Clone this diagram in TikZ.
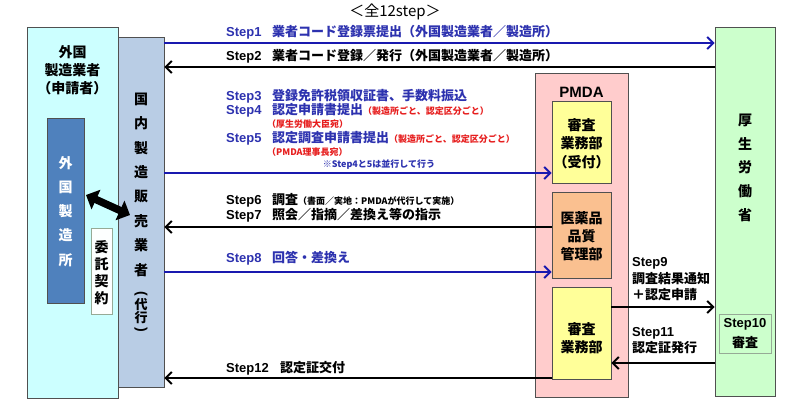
\documentclass[tikz,border=0pt]{standalone}
\usepackage{fontspec}
\setmainfont{Noto Sans CJK JP}
\newfontfamily\lat{Liberation Sans}
\usetikzlibrary{arrows.meta}
\definecolor{cyanbg}{RGB}{204,255,255}
\definecolor{midbg}{RGB}{185,205,229}
\definecolor{darkbl}{RGB}{79,129,189}
\definecolor{greenbg}{RGB}{204,255,204}
\definecolor{pinkbg}{RGB}{255,204,204}
\definecolor{yelbg}{RGB}{255,255,153}
\definecolor{orgbg}{RGB}{250,192,144}
\definecolor{stepblue}{RGB}{45,50,175}
\definecolor{arrblue}{RGB}{25,25,175}
\definecolor{stepred}{RGB}{230,30,30}
\definecolor{bordergray}{RGB}{80,80,80}
\definecolor{thinbd}{RGB}{150,170,150}
\newcommand{\stp}[2]{\makebox[46pt][l]{\lat\bfseries #1}#2}
\newcommand{\smtx}[1]{{\fontsize{9}{10}\selectfont #1}}
\begin{document}
\begin{tikzpicture}[x=1pt,y=-1pt,
  box/.style={draw=bordergray, line width=0.8pt, inner sep=0pt},
  thinbox/.style={draw=thinbd, line width=0.6pt, inner sep=0pt},
  lbl/.style={anchor=west, inner sep=0pt, font=\fontsize{13}{15}\selectfont\bfseries},
  vch/.style={inner sep=0pt, font=\fontsize{14}{16}\selectfont\bfseries},
  btxt/.style={inner sep=0pt, align=center, font=\fontsize{14}{18.5}\selectfont\bfseries},
  barr/.style={line width=2pt, -{Straight Barb[length=6pt,width=12pt,line width=2pt]}},
]
\useasboundingbox (0,0) rectangle (796,405);

% title
\node[inner sep=0pt, font=\fontsize{15}{17}\selectfont] (title) at (395,12) {＜全12step＞};

% left boxes
\node[box, fill=cyanbg, minimum width=91pt, minimum height=371pt] (fmfr) at (72.5,212.5) {};
\node[btxt, font=\fontsize{14}{18}\selectfont\bfseries] (fmfrt) at (72.5,70) {外国\\製造業者\\（申請者）};
\node[box, fill=darkbl, minimum width=37pt, minimum height=185pt] (fsite) at (65.5,210.5) {};
\foreach \c [count=\i] in {外,国,製,造,所}
  \node[vch, text=white] (fs\i) at (65.5,163+24.2*\i-24.2) {\c};
\node[thinbox, fill=white!96!cyanbg, minimum width=21pt, minimum height=86pt] (itaku) at (101.5,271) {};
\foreach \c [count=\i] in {委,託,契,約}
  \node[vch] (it\i) at (101.5,247+17*\i-17) {\c};

% middle box
\node[box, fill=midbg, minimum width=46pt, minimum height=350pt] (mid) at (141,212) {};
\foreach \c [count=\i] in {国,内,製,造,販,売,業,者}
  \node[vch] (md\i) at (141,99+24.4*\i-24.4) {\c};
\node[vch] (mdp1) at (141,294) {\rotatebox{-90}{\lat\bfseries (}};
\node[vch, font=\fontsize{13}{15}\selectfont\bfseries] (mdp2) at (141,305) {代};
\node[vch, font=\fontsize{13}{15}\selectfont\bfseries] (mdp3) at (141,318) {行};
\node[vch] (mdp4) at (141,330) {\rotatebox{-90}{\lat\bfseries )}};

% double arrow
\coordinate (da1) at (86,195);
\coordinate (da2) at (130,215);
\draw[line width=7.5pt, {Triangle[length=11pt,width=21pt]}-{Triangle[length=11pt,width=21pt]}] (da1) -- (da2);

% right box
\node[box, fill=greenbg, minimum width=60pt, minimum height=369pt] (mhlw) at (745,211.5) {};
\foreach \c [count=\i] in {厚,生,労,働,省}
  \node[vch] (mh\i) at (745,120+23.8*\i-23.8) {\c};
\node[thinbox, fill=greenbg, minimum width=52pt, minimum height=39pt] (s10box) at (745,333.5) {};
\node[inner sep=0pt, font=\fontsize{13}{15}\selectfont\bfseries\lat] (s10a) at (745,324) {Step10};
\node[inner sep=0pt, font=\fontsize{13}{15}\selectfont\bfseries] (s10b) at (745,343) {審査};

% PMDA
\node[box, fill=pinkbg, minimum width=93pt, minimum height=324pt] (pmda) at (581.5,235) {};
\node[inner sep=0pt, font=\fontsize{15}{17}\selectfont\bfseries\lat] (pmdat) at (581.5,92) {PMDA};
\node[box, fill=yelbg, minimum width=59pt, minimum height=82pt] (sub1) at (581.5,142) {};
\node[btxt] (sub1t) at (581.5,143.5) {審査\\業務部\\（受付）};
\node[box, fill=orgbg, minimum width=59pt, minimum height=86pt] (sub2) at (581.5,235) {};
\node[btxt, font=\fontsize{14}{18}\selectfont\bfseries] (sub2t) at (581.5,236) {医薬品\\品質\\管理部};
\node[box, fill=yelbg, minimum width=59pt, minimum height=92pt] (sub3) at (581.5,333) {};
\node[btxt] (sub3t) at (581.5,338) {審査\\業務部};

% row coordinates
\coordinate (r1) at (0,43);
\coordinate (r2) at (0,67);
\coordinate (r3) at (0,173);
\coordinate (r6) at (0,227);
\coordinate (r8) at (0,272);
\coordinate (r9) at (0,307);
\coordinate (r11) at (0,363);
\coordinate (r12) at (0,378);

% arrows
\draw[barr, arrblue] (mid.east |- r1) -- (mhlw.west |- r1);
\draw[barr, black] (mhlw.west |- r2) -- (mid.east |- r2);
\draw[barr, arrblue] (mid.east |- r3) -- (sub1.west |- r3);
\draw[barr, black] (sub2.west |- r6) -- (mid.east |- r6);
\draw[barr, arrblue] (mid.east |- r8) -- (sub2.west |- r8);
\draw[barr, black] (sub3.east |- r9) -- (mhlw.west |- r9);
\draw[barr, black] (mhlw.west |- r11) -- (sub3.east |- r11);
\draw[barr, black] (sub3.west |- r12) -- (mid.east |- r12);

% step labels
\node[lbl, text=stepblue] (l1) at (226,32) {\stp{Step1}{業者コード登録票提出（外国製造業者／製造所）}};
\node[lbl] (l2) at (226,56) {\stp{Step2}{業者コード登録／発行（外国製造業者／製造所）}};
\node[lbl, text=stepblue] (l3) at (226,96) {\stp{Step3}{登録免許税領収証書、手数料振込}};
\node[lbl, text=stepblue] (l4) at (226,110) {\stp{Step4}{認定申請書提出\textcolor{stepred}{\smtx{（製造所ごと、認定区分ごと）}}}};
\node[lbl, text=stepred, font=\fontsize{9}{10}\selectfont\bfseries] (l4b) at (267,124) {（厚生労働大臣宛）};
\node[lbl, text=stepblue] (l5) at (226,138) {\stp{Step5}{認定調査申請書提出\textcolor{stepred}{\smtx{（製造所ごと、認定区分ごと）}}}};
\node[lbl, text=stepred, font=\fontsize{9}{10}\selectfont\bfseries] (l5b) at (267,152) {（PMDA理事長宛）};
\node[inner sep=0pt, text=stepblue, font=\fontsize{9}{10}\selectfont\bfseries] (l45) at (379,165) {※Step4と5は並行して行う};
\node[lbl] (l6) at (226,200) {\stp{Step6}{調査\smtx{（書面／実地：PMDAが代行して実施）}}};
\node[lbl] (l7) at (226,215) {\stp{Step7}{照会／指摘／差換え等の指示}};
\node[lbl, text=stepblue] (l8) at (226,258) {\stp{Step8}{回答・差換え}};
\node[lbl] (l12) at (226,368) {\makebox[54pt][l]{\lat\bfseries Step12}認定証交付};
\node[lbl, align=left, font=\fontsize{13}{16.5}\selectfont\bfseries] (l9) at (632,279.5) {{\lat\bfseries Step9}\\調査結果通知\\＋認定申請};
\node[lbl, align=left, font=\fontsize{13}{16.5}\selectfont\bfseries] (l11) at (632,340.5) {{\lat\bfseries Step11}\\認定証発行};
\end{tikzpicture}
\end{document}
